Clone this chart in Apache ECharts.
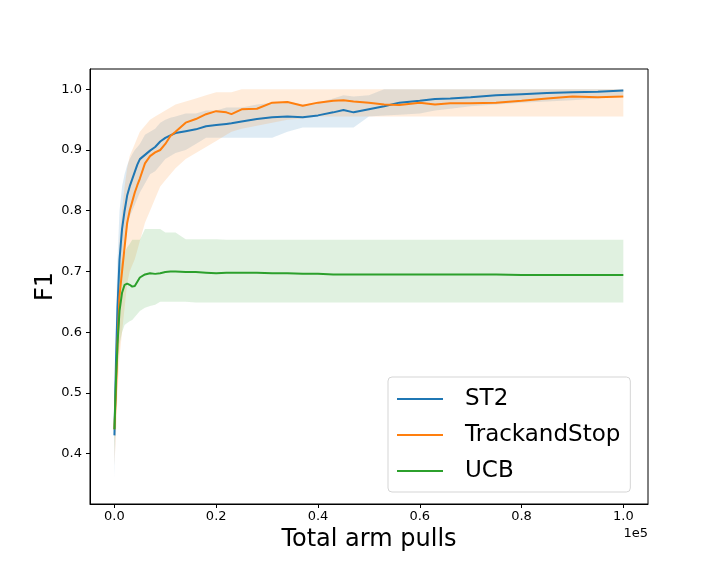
<!DOCTYPE html>
<html>
<head>
<meta charset="utf-8">
<script src="https://cdn.jsdelivr.net/npm/echarts@6/dist/echarts.min.js"></script>
<style>
  html, body { margin: 0; padding: 0; background: #fff; }
  #chart { width: 720px; height: 576px; }
</style>
</head>
<body>
<div id="chart"></div>
<script>
// x = total arm pulls
const xs = [0, 300, 600, 1000, 1500, 2000, 2500, 3000, 3500, 4000,
  4500, 5000, 6000, 7000, 8000, 9000, 10000, 11000, 12000, 14000,
  16000, 18000, 20000, 22000, 23000, 25000, 28000, 31000, 34000, 37000,
  40000, 43000, 45000, 47000, 50000, 53000, 56000, 60000, 63000, 66000,
  70000, 75000, 80000, 85000, 90000, 95000, 100000];

// ST2
const st2Mean = [0.43, 0.55, 0.64, 0.72, 0.77, 0.80, 0.825, 0.84, 0.852, 0.864,
  0.876, 0.885, 0.892, 0.899, 0.905, 0.914, 0.92, 0.924, 0.928, 0.931,
  0.934, 0.939, 0.941, 0.943, 0.944, 0.947, 0.951, 0.954, 0.955, 0.954,
  0.957, 0.962, 0.966, 0.962, 0.967, 0.972, 0.978, 0.981, 0.984, 0.985,
  0.987, 0.99, 0.992, 0.994, 0.995, 0.996, 0.998];
const st2Lo = [0.36, 0.47, 0.56, 0.65, 0.70, 0.74, 0.77, 0.79, 0.80, 0.81,
  0.82, 0.83, 0.845, 0.86, 0.865, 0.875, 0.885, 0.89, 0.895, 0.90,
  0.91, 0.92, 0.92, 0.92, 0.92, 0.92, 0.92, 0.92, 0.93, 0.937,
  0.937, 0.937, 0.937, 0.937, 0.955, 0.957, 0.958, 0.96, 0.965, 0.968,
  0.972, 0.975, 0.978, 0.98, 0.982, 0.985, 0.99];
const st2Hi = [0.48, 0.62, 0.72, 0.80, 0.84, 0.86, 0.875, 0.885, 0.893, 0.90,
  0.905, 0.91, 0.925, 0.93, 0.935, 0.945, 0.95, 0.953, 0.955, 0.96,
  0.96, 0.965, 0.965, 0.97, 0.97, 0.97, 0.975, 0.978, 0.98, 0.975,
  0.978, 0.985, 0.99, 0.988, 0.99, 1.0, 1.0, 1.0, 1.0, 1.0,
  1.0, 1.0, 1.0, 1.0, 1.0, 1.0, 1.0];

// TrackandStop
const tasMean = [0.44, 0.50, 0.58, 0.66, 0.70, 0.74, 0.78, 0.80, 0.815, 0.83,
  0.842, 0.853, 0.878, 0.89, 0.896, 0.90, 0.91, 0.923, 0.93, 0.945,
  0.951, 0.959, 0.964, 0.962, 0.959, 0.967, 0.968, 0.978, 0.979, 0.973,
  0.978, 0.981, 0.982, 0.98, 0.978, 0.975, 0.974, 0.978, 0.975, 0.977,
  0.977, 0.978, 0.981, 0.985, 0.988, 0.987, 0.988];
const tasLo = [0.38, 0.43, 0.50, 0.56, 0.60, 0.64, 0.68, 0.70, 0.71, 0.72,
  0.735, 0.75, 0.78, 0.80, 0.82, 0.84, 0.85, 0.86, 0.87, 0.885,
  0.895, 0.905, 0.915, 0.925, 0.93, 0.935, 0.94, 0.945, 0.95, 0.952,
  0.955, 0.955, 0.955, 0.955, 0.955, 0.955, 0.955, 0.955, 0.955, 0.955,
  0.955, 0.955, 0.955, 0.955, 0.955, 0.955, 0.955];
const tasHi = [0.50, 0.58, 0.67, 0.75, 0.80, 0.84, 0.87, 0.89, 0.90, 0.91,
  0.92, 0.93, 0.94, 0.95, 0.955, 0.96, 0.965, 0.97, 0.975, 0.98,
  0.985, 0.99, 0.995, 0.995, 0.995, 1.0, 1.0, 1.0, 1.0, 1.0,
  1.0, 1.0, 1.0, 1.0, 1.0, 1.0, 1.0, 1.0, 1.0, 1.0,
  1.0, 1.0, 1.0, 1.0, 1.0, 1.0, 1.0];

// UCB
const ucbMean = [0.44, 0.52, 0.58, 0.635, 0.665, 0.678, 0.68, 0.678, 0.675, 0.676,
  0.683, 0.69, 0.695, 0.697, 0.696, 0.697, 0.699, 0.70, 0.70, 0.699,
  0.699, 0.698, 0.697, 0.698, 0.698, 0.698, 0.698, 0.697, 0.697, 0.696,
  0.696, 0.695, 0.695, 0.695, 0.695, 0.695, 0.695, 0.695, 0.695, 0.695,
  0.695, 0.695, 0.694, 0.694, 0.694, 0.694, 0.694];
const ucbLo = [0.40, 0.48, 0.54, 0.58, 0.60, 0.612, 0.615, 0.618, 0.62, 0.625,
  0.63, 0.635, 0.64, 0.643, 0.645, 0.65, 0.65, 0.65, 0.65, 0.65,
  0.649, 0.649, 0.649, 0.649, 0.649, 0.649, 0.649, 0.649, 0.649, 0.649,
  0.649, 0.649, 0.649, 0.649, 0.649, 0.649, 0.649, 0.649, 0.649, 0.649,
  0.649, 0.649, 0.649, 0.649, 0.649, 0.649, 0.649];
const ucbHi = [0.47, 0.58, 0.66, 0.70, 0.72, 0.73, 0.74, 0.745, 0.752, 0.752,
  0.752, 0.752, 0.77, 0.77, 0.77, 0.77, 0.764, 0.764, 0.764, 0.753,
  0.753, 0.753, 0.753, 0.752, 0.752, 0.752, 0.752, 0.752, 0.752, 0.752,
  0.752, 0.752, 0.752, 0.752, 0.752, 0.752, 0.752, 0.752, 0.752, 0.752,
  0.752, 0.752, 0.752, 0.752, 0.752, 0.752, 0.752];

const xTicks = [0, 20000, 40000, 60000, 80000, 100000];
const yTicks = [0.4, 0.5, 0.6, 0.7, 0.8, 0.9, 1.0];

const BLUE = "#1f77b4", ORANGE = "#ff7f0e", GREEN = "#2ca02c";
const FONT = "DejaVu Sans";

function pairs(ys) {
  return xs.map((x, i) => [x, ys[i]]);
}

// fill_between as one polygon, built from the data through api.coord
function band(id, lo, hi, fill) {
  return {
    name: id + "_band",
    type: "custom",
    silent: true,
    z: 1,
    data: xs.map((x, i) => [x, lo[i], hi[i]]),
    encode: { x: 0, y: [1, 2] },
    renderItem: function (params, api) {
      if (params.dataIndexInside !== 0) return null;
      let top = [], bottom = [];
      for (let i = 0; i < params.dataInsideLength; i++) {
        let x = api.value(0, i);
        top.push(api.coord([x, api.value(2, i)]));
        bottom.push(api.coord([x, api.value(1, i)]));
      }
      return {
        type: "polygon",
        shape: { points: top.concat(bottom.reverse()) },
        style: { fill: fill },
      };
    },
  };
}

function meanLine(name, ys, color) {
  return {
    name: name, type: "line", data: pairs(ys), symbol: "none",
    lineStyle: { color: color, width: 2 }, itemStyle: { color: color }, z: 3,
  };
}

const chart = echarts.init(document.getElementById("chart"), null, { renderer: "canvas" });
const option = {
  animation: false,
  textStyle: { fontFamily: FONT },
  grid: {
    left: 90, right: 72, top: 69, bottom: 72,
    show: true, borderColor: "#000", borderWidth: 1, backgroundColor: "transparent",
  },
  legend: {
    data: ["ST2", "TrackandStop", "UCB"],
    orient: "vertical",
    left: 388, top: 377,
    padding: [9, 10, 8, 9],
    itemGap: 10,
    itemWidth: 46, itemHeight: 2,
    icon: "rect",
    backgroundColor: "rgba(255,255,255,0.8)",
    borderColor: "#d5d5d5", borderWidth: 1, borderRadius: 4,
    textStyle: { fontFamily: FONT, fontSize: 23, lineHeight: 26, color: "#000", padding: [0, 0, 0, 17] },
  },
  xAxis: {
    type: "value",
    min: -4800, max: 104850,
    name: "Total arm pulls",
    nameLocation: "middle",
    nameGap: 24,
    nameTextStyle: { fontFamily: FONT, fontSize: 24, color: "#000" },
    axisLine: { show: true, onZero: false, lineStyle: { color: "#000", width: 1 } },
    axisTick: { show: true, length: 4, inside: false, customValues: xTicks, lineStyle: { color: "#000" } },
    axisLabel: {
      customValues: xTicks, margin: 6, fontSize: 13, color: "#000", fontFamily: FONT,
      formatter: (v) => (v / 1e5).toFixed(1),
    },
    splitLine: { show: false },
  },
  yAxis: {
    type: "value",
    min: 0.317, max: 1.0334,
    name: "F1",
    nameLocation: "middle",
    nameGap: 32,
    nameMoveOverlap: false,
    nameTextStyle: { fontFamily: FONT, fontSize: 24, color: "#000" },
    axisLine: { show: true, onZero: false, lineStyle: { color: "#000", width: 1 } },
    axisTick: { show: true, length: 4, inside: false, customValues: yTicks, lineStyle: { color: "#000" } },
    axisLabel: {
      customValues: yTicks, margin: 8, fontSize: 13, color: "#000", fontFamily: FONT,
      formatter: (v) => v.toFixed(1),
    },
    splitLine: { show: false },
  },
  graphic: [
    {
      type: "text", right: 72, top: 527,
      style: { text: "1e5", font: "13px " + FONT, fill: "#000" },
    },
  ],
  series: [
    band("st2", st2Lo, st2Hi, "rgba(31,119,180,0.15)"),
    band("tas", tasLo, tasHi, "rgba(255,127,14,0.15)"),
    band("ucb", ucbLo, ucbHi, "rgba(44,160,44,0.15)"),
    meanLine("ST2", st2Mean, BLUE),
    meanLine("TrackandStop", tasMean, ORANGE),
    meanLine("UCB", ucbMean, GREEN),
  ],
};
chart.setOption(option);
</script>
</body>
</html>
